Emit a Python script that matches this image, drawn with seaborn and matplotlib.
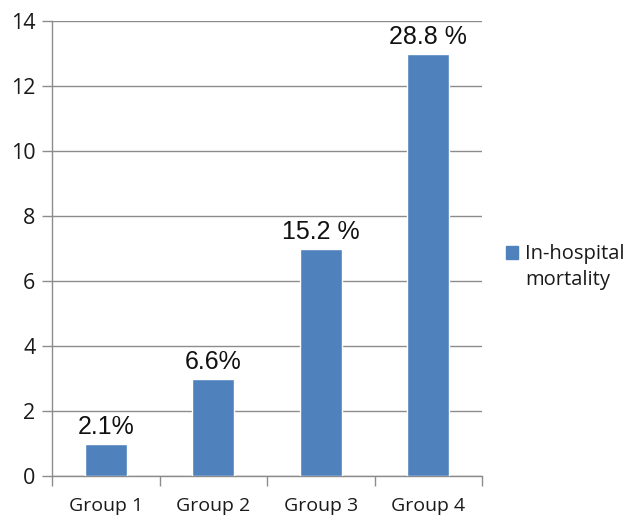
import matplotlib
matplotlib.use("Agg")
import matplotlib.pyplot as plt
import seaborn as sns
import pandas as pd
from matplotlib.patches import Patch

groups = ["Group 1", "Group 2", "Group 3", "Group 4"]
values = [1, 3, 7, 13]
bar_labels = ["2.1%", "6.6%", "15.2 %", "28.8 %"]
yticks = [0, 2, 4, 6, 8, 10, 12, 14]
series_name_lines = ["In-hospital", "mortality"]

sns.set_theme(style="white")
plt.rcParams['font.family'] = ['Open Sans', 'DejaVu Sans']

df = pd.DataFrame({"group": groups, "value": values})

fig = plt.figure(figsize=(6.26, 5.17), dpi=100)
ax = fig.add_axes([52/626, 1 - 476/517, (482-52)/626, (476-21)/517])

color = "#4F81BD"
sns.barplot(data=df, x="group", y="value", color=color, width=0.39,
            saturation=1, ax=ax, zorder=3)

ax.set_ylim(0, 14)
ax.set_xlim(-0.5, 3.5)
ax.set_yticks(yticks)
ax.set_yticklabels([str(t) for t in yticks], fontsize=15.5, color="#1a1a1a")
ax.yaxis.grid(True, color="#8c8c8c", linewidth=1.0, zorder=0)
ax.set_axisbelow(True)
ax.set_xlabel("")
ax.set_ylabel("")

for s in ["top", "right"]:
    ax.spines[s].set_visible(False)
for s in ["left", "bottom"]:
    ax.spines[s].set_color("#8c8c8c")
    ax.spines[s].set_linewidth(1.0)

ax.tick_params(axis="y", which="both", left=True, length=7, width=1,
               color="#8c8c8c", pad=5)
ax.set_xticks(range(len(groups)))
ax.set_xticklabels(groups, fontsize=14, color="#1a1a1a")
ax.tick_params(axis="x", which="major", bottom=False, pad=9)
ax.set_xticks([-0.5, 0.5, 1.5, 2.5, 3.5], minor=True)
ax.tick_params(axis="x", which="minor", bottom=True, length=7, width=1,
               color="#8c8c8c")

for i, (v, lab) in enumerate(zip(values, bar_labels)):
    ax.annotate(lab, (i, v), xytext=(0, 3), textcoords="offset points",
                ha="center", va="bottom", fontsize=18,
                family=["Liberation Sans", "DejaVu Sans"], color="#111111")

handle = Patch(facecolor=color, edgecolor=color)
blank = Patch(facecolor="none", edgecolor="none")
leg = fig.legend([handle, blank], series_name_lines, loc="center left",
                 bbox_to_anchor=(488/626, 1 - 267/517), frameon=False,
                 fontsize=14.5, handlelength=0.6, handleheight=0.6,
                 handletextpad=0.35, labelspacing=0.25,
                 labelcolor="#1a1a1a")

fig.savefig("out.png", dpi=100)
